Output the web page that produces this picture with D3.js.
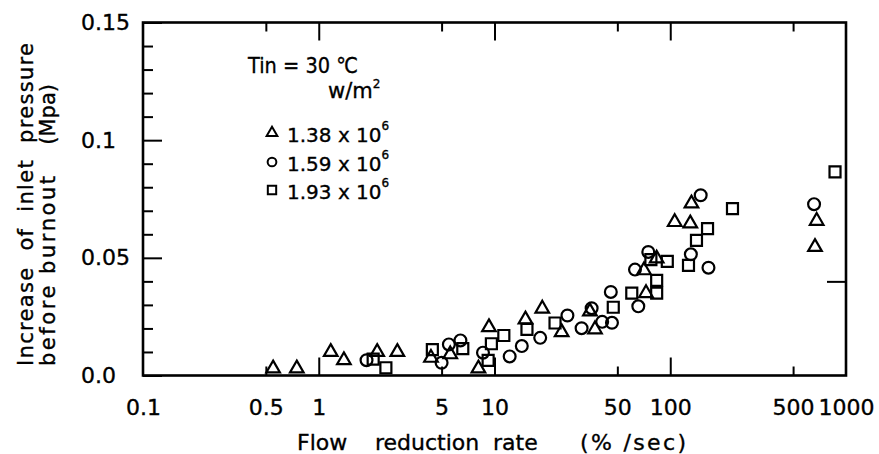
<!DOCTYPE html>
<html><head><meta charset="utf-8">
<script src="https://cdn.jsdelivr.net/npm/d3@7"></script>
<style>
body{margin:0;background:#fff;}
svg text{font-family:"DejaVu Sans","Liberation Sans",sans-serif;fill:#000;stroke:#000;stroke-width:0.35;}
</style></head><body>
<svg id="chart" width="879" height="454"></svg>
<script>
// ---- data (x: flow reduction rate %/sec, y: increase of inlet pressure MPa)
const seriesNames = ["1.38 x 10", "1.59 x 10", "1.93 x 10"];
const tri138 = [[0.55,0.003],[0.75,0.003],[1.17,0.010],[1.39,0.0065],[2.15,0.010],[2.8,0.010],[4.35,0.0075],[5.6,0.009],[8.1,0.003],[9.3,0.0205],[15.0,0.0238],[18.7,0.0284],[24.1,0.0184],[34.9,0.0272],[37.3,0.0196],[70.9,0.0447],[72.8,0.035],[83.7,0.0497],[106,0.0652],[130,0.0646],[132,0.0731],[666,0.0546],[681,0.0657]];
const cir159 = [[1.87,0.0065],[5.0,0.0054],[5.5,0.0132],[6.4,0.0149],[8.6,0.0097],[12.2,0.0081],[14.3,0.0125],[18.2,0.016],[26,0.0255],[31.3,0.0201],[35.7,0.0286],[41,0.0228],[46.6,0.0224],[45.9,0.0355],[63,0.045],[65.8,0.0294],[75,0.0525],[131,0.0515],[149,0.0766],[165,0.0458],[658,0.0728]];
const sq193 = [[2.04,0.007],[2.41,0.0033],[4.43,0.011],[6.6,0.0114],[9.2,0.0064],[9.6,0.0135],[11.3,0.017],[15.3,0.0196],[22.1,0.0223],[47.4,0.029],[60.4,0.035],[77.6,0.0492],[83.7,0.035],[83.7,0.0404],[96.2,0.0485],[127,0.0468],[141,0.0574],[163,0.0624],[226,0.0709],[866,0.0865]];
const xTickLabels = [0.1,0.5,1,5,10,50,100,500,1000];
const xMajor = [1,10,100];
const xMinor = [0.5,5,50,500];
const yTickValues = [0,0.05,0.1,0.15];
const yTickLabels = ["0.0","0.05","0.1","0.15"];
const yMinor = [0.01,0.02,0.03,0.04,0.06,0.07,0.08,0.09,0.11,0.12,0.13,0.14];

const L=143,R=846,T=22.5,B=375.5;
const svg = d3.select("#chart");
const x = d3.scaleLog().domain([0.1,1000]).range([L,R]);
const y = d3.scaleLinear().domain([0,0.15]).range([B,T]);

function styleAxis(g){ g.select(".domain").remove(); g.selectAll("line").attr("stroke","#000").attr("stroke-width",2); }

// inward ticks
svg.append("g").attr("transform",`translate(0,${B})`).call(d3.axisTop(x).tickValues(xMajor).tickSize(18).tickFormat("")).call(styleAxis);
svg.append("g").attr("transform",`translate(0,${B})`).call(d3.axisTop(x).tickValues(xMinor).tickSize(9).tickFormat("")).call(styleAxis);
svg.append("g").attr("transform",`translate(0,${T})`).call(d3.axisBottom(x).tickValues(xMajor).tickSize(18).tickFormat("")).call(styleAxis);
svg.append("g").attr("transform",`translate(0,${T})`).call(d3.axisBottom(x).tickValues(xMinor).tickSize(9).tickFormat("")).call(styleAxis);
svg.append("g").attr("transform",`translate(${L},0)`).call(d3.axisRight(y).tickValues(yTickValues).tickSize(19).tickFormat("")).call(styleAxis);
svg.append("g").attr("transform",`translate(${L},0)`).call(d3.axisRight(y).tickValues(yMinor).tickSize(10).tickFormat("")).call(styleAxis);
svg.append("g").attr("transform",`translate(${R},0)`).call(d3.axisLeft(y).tickValues([0.04]).tickSize(19).tickFormat("")).call(styleAxis);

// frame
svg.append("rect").attr("x",L).attr("y",T).attr("width",R-L).attr("height",B-T)
  .attr("fill","none").attr("stroke","#000").attr("stroke-width",2.6);

// tick labels
const xl = svg.append("g").attr("transform",`translate(0,${B})`)
  .call(d3.axisBottom(x).tickValues(xTickLabels).tickSize(0).tickPadding(24).tickFormat(d3.format("~g")));
xl.select(".domain").remove();
xl.selectAll("text").attr("font-size",22).attr("fill","#000").style("font-family",null);
const yl = svg.append("g").attr("transform",`translate(${L},0)`)
  .call(d3.axisLeft(y).tickValues(yTickValues).tickSize(0).tickFormat((d,i)=>yTickLabels[i]));
yl.select(".domain").remove();
yl.selectAll("text").attr("font-size",22).attr("fill","#000").style("font-family",null)
  .attr("text-anchor","start").attr("x",81-L);

// axis titles
const xt = svg.append("g").attr("font-size",22);
[["Flow",297],["reduction",375],["rate",493]].forEach(([w,px])=>xt.append("text").attr("x",px).attr("y",450).text(w));
xt.append("text").attr("x",580).attr("y",450).attr("textLength",106).attr("lengthAdjust","spacing").text("(% /sec)");

const yt1 = svg.append("g").attr("font-size",21);
yt1.append("text").attr("transform","translate(33,366) rotate(-90)")
  .attr("textLength",323).attr("lengthAdjust","spacing").style("white-space","pre").text("Increase  of  inlet  pressure");
yt1.append("text").attr("transform","translate(55,366) rotate(-90)").text("before burnout")
  .attr("textLength",190).attr("lengthAdjust","spacing");
yt1.append("text").attr("transform","translate(55,84) rotate(-90)").attr("text-anchor","end").text("(Mpa)");

// markers
const shapes = [d3.symbolTriangle, d3.symbolCircle, d3.symbolSquare];
const sizes = [80, 110, 121];
const sets = [tri138, cir159, sq193];
sets.forEach((data,si)=>{
  svg.append("g").selectAll("path").data(data).join("path")
    .attr("transform",d=>`translate(${x(d[0])},${y(d[1])})`)
    .attr("d",d3.symbol(shapes[si],sizes[si])())
    .attr("fill","none").attr("stroke","#000").attr("stroke-width",2.2);
});

// legend
const lg = svg.append("g");
lg.append("text").attr("x",248).attr("y",73).attr("font-size",22).attr("textLength",110)
  .attr("lengthAdjust","spacingAndGlyphs").text("Tin = 30 ℃");
const wt = lg.append("text").attr("x",328).attr("y",98).attr("font-size",21);
wt.append("tspan").text("w/m");
wt.append("tspan").attr("font-size",12).attr("dy",-10).text("2");
const legY = [142,171,199];
const legSizes = [50,60,70];
seriesNames.forEach((name,i)=>{
  lg.append("path").attr("transform",`translate(272,${legY[i]-9})`)
    .attr("d",d3.symbol(shapes[i],legSizes[i])())
    .attr("fill","none").attr("stroke","#000").attr("stroke-width",2);
  const t = lg.append("text").attr("x",287).attr("y",legY[i]).attr("font-size",20);
  t.append("tspan").text(name);
  t.append("tspan").attr("font-size",12).attr("dy",-12).text("6");
});
</script>
</body></html>
